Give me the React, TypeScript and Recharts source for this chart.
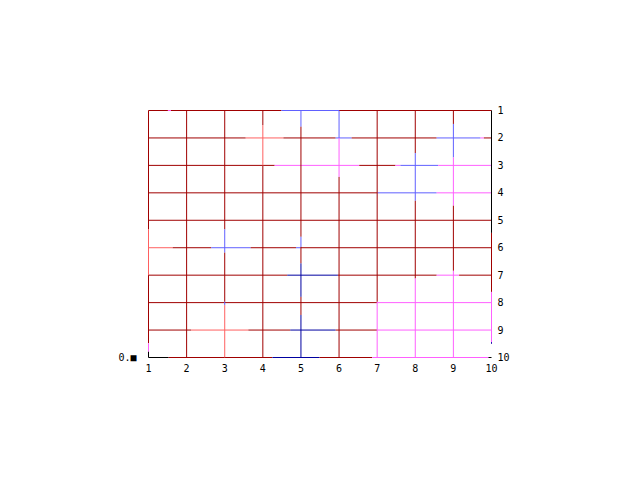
import React from 'react';
import { ComposedChart, XAxis, YAxis, ReferenceLine } from 'recharts';

type Level = 'dr' | 'lr' | 'mg' | 'bl' | 'db' | 'k';

const xTicks = [1, 2, 3, 4, 5, 6, 7, 8, 9, 10];
const yTicks = [1, 2, 3, 4, 5, 6, 7, 8, 9, 10];
const cornerTick = [10];
const cornerLabel = '0.■';

// horizontal grid pieces: [row, xFrom, xTo, level]
const rowPieces: [number, number, number, Level][] = [
  [1, 1, 1.51, 'dr'], [1, 1.51, 1.59, 'mg'], [1, 1.59, 4.49, 'dr'], [1, 4.49, 6.0, 'bl'], [1, 6.0, 10, 'dr'],
  [2, 1, 3.55, 'dr'], [2, 3.55, 4.54, 'lr'], [2, 4.54, 5.91, 'dr'], [2, 5.91, 6.33, 'bl'], [2, 6.33, 8.56, 'dr'],
  [2, 8.56, 9.71, 'bl'], [2, 9.71, 9.8, 'mg'], [2, 9.8, 10, 'dr'],
  [3, 1, 4.31, 'dr'], [3, 4.31, 6.53, 'mg'], [3, 6.53, 7.48, 'dr'], [3, 7.48, 7.61, 'mg'], [3, 7.61, 8.6, 'bl'], [3, 8.6, 10, 'mg'],
  [4, 1, 7.0, 'dr'], [4, 7.0, 8.56, 'bl'], [4, 8.56, 10, 'mg'],
  [5, 1, 10, 'dr'],
  [6, 1, 1.635, 'lr'], [6, 1.635, 2.645, 'dr'], [6, 2.645, 3.68, 'bl'], [6, 3.68, 4.87, 'dr'], [6, 4.87, 5.0, 'bl'], [6, 5.0, 10, 'dr'],
  [7, 1, 4.64, 'dr'], [7, 4.64, 5.97, 'db'], [7, 5.97, 8.56, 'dr'], [7, 8.56, 9.15, 'mg'], [7, 9.15, 10, 'dr'],
  [8, 1, 7.0, 'dr'], [8, 7.0, 10, 'mg'],
  [9, 1, 2.12, 'dr'], [9, 2.12, 3.62, 'lr'], [9, 3.62, 4.72, 'dr'], [9, 4.72, 5.91, 'db'], [9, 5.91, 7.0, 'dr'], [9, 7.0, 10, 'mg'],
  [10, 1, 1.53, 'k'], [10, 1.53, 4.25, 'dr'], [10, 4.25, 5.49, 'db'], [10, 5.49, 6.87, 'dr'], [10, 6.87, 9.92, 'mg'], [10, 9.92, 10, 'k'],
];

// vertical grid pieces: [column, yFrom, yTo, level]
const colPieces: [number, number, number, Level][] = [
  [1, 1, 5.32, 'dr'], [1, 5.32, 7.0, 'lr'], [1, 7.0, 9.48, 'dr'], [1, 9.48, 9.79, 'mg'], [1, 9.79, 10, 'k'],
  [2, 1, 10, 'dr'],
  [3, 1, 5.33, 'dr'], [3, 5.33, 6.18, 'bl'], [3, 6.18, 7.97, 'dr'], [3, 7.97, 8.09, 'bl'], [3, 8.09, 10, 'lr'],
  [4, 1, 1.53, 'dr'], [4, 1.53, 3.01, 'lr'], [4, 3.01, 10, 'dr'],
  [5, 1, 1.59, 'bl'], [5, 1.59, 5.6, 'dr'], [5, 5.6, 5.97, 'bl'], [5, 5.97, 6.57, 'dr'], [5, 6.57, 7.79, 'db'],
  [5, 7.79, 8.45, 'dr'], [5, 8.45, 10, 'db'],
  [6, 1, 2.0, 'bl'], [6, 2.0, 3.42, 'mg'], [6, 3.42, 10, 'dr'],
  [7, 1, 7.97, 'dr'], [7, 7.97, 10, 'mg'],
  [8, 1, 2.55, 'dr'], [8, 2.55, 4.29, 'bl'], [8, 4.29, 7.12, 'dr'], [8, 7.12, 10, 'mg'],
  [9, 1, 1.49, 'dr'], [9, 1.49, 2.71, 'bl'], [9, 2.71, 4.47, 'mg'], [9, 4.47, 6.84, 'dr'], [9, 6.84, 10, 'mg'],
  [10, 1, 5.46, 'k'], [10, 5.46, 7.61, 'dr'], [10, 7.61, 9.44, 'mg'], [10, 9.44, 9.5, 'db'],
];

const palette: Record<Level, string> = {
  dr: '#a00000',
  lr: '#ff6060',
  mg: '#ff60ff',
  bl: '#6060ff',
  db: '#0000a0',
  k: '#000000',
};

const tickStyle = { fill: '#000', fontSize: 10, fontFamily: '"DejaVu Sans Mono", monospace' };

export default function App() {
  const data = xTicks.map((x) => ({ x }));
  return (
    <ComposedChart
      width={640}
      height={480}
      data={data}
      margin={{ top: 102.5, right: 126.5, bottom: 100.5, left: 100.5 }}
    >
      <XAxis
        dataKey="x"
        type="number"
        domain={[1, 10]}
        ticks={xTicks}
        interval={0}
        allowDataOverflow
        axisLine={false}
        tickLine={false}
        tickSize={0}
        tickMargin={7}
        height={30}
        tick={tickStyle}
      />
      <YAxis
        yAxisId="right"
        orientation="right"
        type="number"
        domain={[1, 10]}
        reversed
        ticks={yTicks}
        interval={0}
        allowDataOverflow
        axisLine={false}
        tickLine={false}
        tickSize={0}
        tickMargin={6}
        width={30}
        tick={{ ...tickStyle, textAnchor: 'start' }}
      />
      <YAxis
        yAxisId="left"
        orientation="left"
        type="number"
        domain={[1, 10]}
        reversed
        ticks={cornerTick}
        interval={0}
        allowDataOverflow
        axisLine={false}
        tickLine={false}
        tickSize={0}
        tickMargin={12}
        width={40}
        tickFormatter={() => cornerLabel}
        tick={tickStyle}
      />
      {rowPieces.map(([r, a, b, lv], i) => (
        <ReferenceLine
          key={`r${i}`}
          yAxisId="right"
          segment={[{ x: a, y: r }, { x: b, y: r }]}
          stroke={palette[lv]}
          strokeWidth={1}
          ifOverflow="visible"
        />
      ))}
      {colPieces.map(([c, a, b, lv], i) => (
        <ReferenceLine
          key={`c${i}`}
          yAxisId="right"
          segment={[{ x: c, y: a }, { x: c, y: b }]}
          stroke={palette[lv]}
          strokeWidth={1}
          ifOverflow="visible"
        />
      ))}
    </ComposedChart>
  );
}
